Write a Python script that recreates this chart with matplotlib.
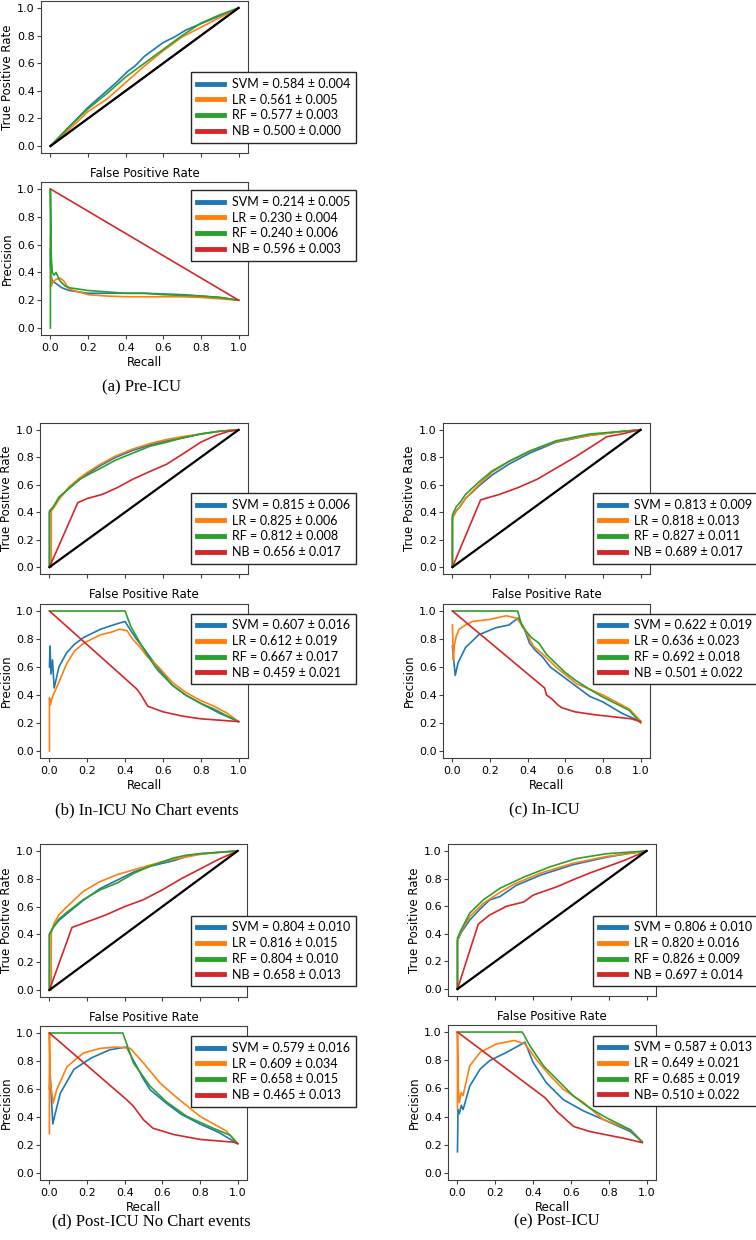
import numpy as np
import matplotlib
matplotlib.use("Agg")
import matplotlib.pyplot as plt

W, H = 756, 1240
COLORS = ['#1f77b4', '#ff7f0e', '#2ca02c', '#d62728']

# ---------------- (a) Pre-ICU ----------------
a_roc_svm_x = [0, 0.05, 0.1, 0.2, 0.3, 0.35, 0.41, 0.45, 0.5, 0.55, 0.6, 0.66, 0.72, 0.79, 0.86, 0.93, 1]
a_roc_svm_y = [0, 0.07, 0.14, 0.28, 0.4, 0.46, 0.54, 0.58, 0.65, 0.7, 0.75, 0.79, 0.84, 0.88, 0.92, 0.96, 1]
a_roc_lr_x = [0, 0.1, 0.2, 0.3, 0.4, 0.5, 0.6, 0.7, 0.8, 0.9, 1]
a_roc_lr_y = [0, 0.12, 0.25, 0.34, 0.46, 0.58, 0.69, 0.79, 0.86, 0.93, 1]
a_roc_rf_x = [0, 0.1, 0.2, 0.3, 0.4, 0.5, 0.6, 0.7, 0.8, 0.9, 1]
a_roc_rf_y = [0, 0.14, 0.27, 0.38, 0.5, 0.6, 0.7, 0.8, 0.89, 0.95, 1]
a_roc_nb_x = [0, 1]
a_roc_nb_y = [0, 1]
a_roc_labels = ['SVM = 0.584 ± 0.004', 'LR = 0.561 ± 0.005', 'RF = 0.577 ± 0.003', 'NB = 0.500 ± 0.000']

a_pr_svm_x = [0, 0, 0.005, 0.01, 0.02, 0.04, 0.06, 0.1, 0.15, 0.2, 0.3, 0.4, 0.5, 0.6, 0.7, 0.8, 0.9, 1]
a_pr_svm_y = [0.57, 0.45, 0.38, 0.33, 0.33, 0.31, 0.29, 0.27, 0.26, 0.25, 0.25, 0.25, 0.25, 0.245, 0.24, 0.23, 0.22, 0.2]
a_pr_lr_x = [0, 0.005, 0.01, 0.03, 0.05, 0.07, 0.1, 0.15, 0.2, 0.3, 0.4, 0.5, 0.6, 0.7, 0.8, 0.9, 1]
a_pr_lr_y = [0.65, 0.3, 0.33, 0.35, 0.36, 0.34, 0.28, 0.26, 0.24, 0.23, 0.225, 0.225, 0.225, 0.225, 0.22, 0.21, 0.2]
a_pr_rf_x = [0, 0, 0.005, 0.01, 0.02, 0.03, 0.05, 0.08, 0.1, 0.2, 0.3, 0.4, 0.5, 0.6, 0.7, 0.8, 0.9, 1]
a_pr_rf_y = [0, 1.0, 0.5, 0.4, 0.38, 0.4, 0.34, 0.3, 0.29, 0.27, 0.26, 0.25, 0.25, 0.24, 0.235, 0.23, 0.22, 0.2]
a_pr_nb_x = [0, 1]
a_pr_nb_y = [1, 0.2]
a_pr_labels = ['SVM = 0.214 ± 0.005', 'LR = 0.230 ± 0.004', 'RF = 0.240 ± 0.006', 'NB = 0.596 ± 0.003']

# ---------------- (b) In-ICU No Chart events ----------------
b_roc_svm_x = [0, 0, 0.02, 0.05, 0.1, 0.16, 0.2, 0.27, 0.35, 0.44, 0.53, 0.62, 0.7, 0.8, 0.9, 1]
b_roc_svm_y = [0, 0.4, 0.43, 0.5, 0.57, 0.64, 0.68, 0.74, 0.8, 0.85, 0.89, 0.92, 0.94, 0.97, 0.99, 1]
b_roc_lr_x = [0, 0.01, 0.01, 0.03, 0.06, 0.1, 0.16, 0.2, 0.27, 0.35, 0.44, 0.53, 0.62, 0.7, 0.8, 0.9, 1]
b_roc_lr_y = [0, 0, 0.41, 0.45, 0.51, 0.58, 0.65, 0.69, 0.75, 0.81, 0.86, 0.9, 0.93, 0.95, 0.97, 0.99, 1]
b_roc_rf_x = [0, 0, 0.02, 0.05, 0.1, 0.16, 0.2, 0.27, 0.35, 0.44, 0.53, 0.62, 0.7, 0.8, 0.9, 1]
b_roc_rf_y = [0, 0.41, 0.44, 0.51, 0.57, 0.64, 0.67, 0.72, 0.78, 0.83, 0.88, 0.91, 0.94, 0.97, 0.99, 1]
b_roc_nb_x = [0, 0.15, 0.2, 0.28, 0.36, 0.44, 0.52, 0.62, 0.7, 0.8, 0.88, 0.95, 1]
b_roc_nb_y = [0, 0.47, 0.5, 0.53, 0.58, 0.64, 0.69, 0.75, 0.82, 0.91, 0.96, 0.99, 1]
b_roc_labels = ['SVM = 0.815 ± 0.006', 'LR = 0.825 ± 0.006', 'RF = 0.812 ± 0.008', 'NB = 0.656 ± 0.017']

b_pr_svm_x = [0, 0.003, 0.008, 0.016, 0.025, 0.05, 0.09, 0.13, 0.18, 0.27, 0.36, 0.4, 0.43, 0.46, 0.5, 0.57, 0.65, 0.72, 0.8, 0.9, 1]
b_pr_svm_y = [0.6, 0.75, 0.55, 0.65, 0.45, 0.6, 0.7, 0.76, 0.81, 0.87, 0.91, 0.925, 0.86, 0.8, 0.73, 0.6, 0.47, 0.4, 0.34, 0.27, 0.21]
b_pr_lr_x = [0, 0, 0.005, 0.01, 0.02, 0.04, 0.09, 0.13, 0.18, 0.27, 0.33, 0.37, 0.41, 0.44, 0.48, 0.52, 0.57, 0.65, 0.72, 0.8, 0.87, 0.94, 1]
b_pr_lr_y = [0, 0.38, 0.33, 0.36, 0.4, 0.46, 0.62, 0.71, 0.77, 0.83, 0.85, 0.87, 0.86, 0.8, 0.74, 0.67, 0.61, 0.49, 0.42, 0.36, 0.32, 0.27, 0.21]
b_pr_rf_x = [0, 0.4, 0.43, 0.48, 0.52, 0.57, 0.65, 0.72, 0.8, 0.87, 0.94, 1]
b_pr_rf_y = [1, 1, 0.89, 0.77, 0.68, 0.58, 0.47, 0.4, 0.34, 0.3, 0.25, 0.21]
b_pr_nb_x = [0, 0.46, 0.48, 0.52, 0.6, 0.7, 0.8, 0.9, 1]
b_pr_nb_y = [1, 0.445, 0.41, 0.32, 0.28, 0.25, 0.23, 0.22, 0.21]
b_pr_labels = ['SVM = 0.607 ± 0.016', 'LR = 0.612 ± 0.019', 'RF = 0.667 ± 0.017', 'NB = 0.459 ± 0.021']

# ---------------- (c) In-ICU ----------------
c_roc_x = [0, 0, 0.02, 0.04, 0.07, 0.14, 0.21, 0.3, 0.41, 0.55, 0.73, 0.91, 1]
c_roc_svm_y = [0, 0.36, 0.41, 0.44, 0.5, 0.59, 0.67, 0.75, 0.83, 0.91, 0.96, 0.99, 1]
c_roc_lr_y = [0, 0.35, 0.41, 0.44, 0.5, 0.6, 0.69, 0.77, 0.845, 0.915, 0.96, 0.99, 1]
c_roc_rf_y = [0, 0.38, 0.44, 0.47, 0.53, 0.62, 0.7, 0.77, 0.845, 0.92, 0.97, 0.99, 1]
c_roc_nb_x = [0, 0.15, 0.25, 0.35, 0.45, 0.55, 0.65, 0.73, 0.82, 0.9, 0.96, 1]
c_roc_nb_y = [0, 0.49, 0.53, 0.58, 0.64, 0.72, 0.8, 0.87, 0.95, 0.97, 0.99, 1]
c_roc_labels = ['SVM = 0.813 ± 0.009', 'LR = 0.818 ± 0.013', 'RF = 0.827 ± 0.011', 'NB = 0.689 ± 0.017']

c_pr_svm_x = [0, 0.005, 0.015, 0.03, 0.07, 0.14, 0.23, 0.3, 0.35, 0.38, 0.41, 0.44, 0.48, 0.52, 0.59, 0.66, 0.73, 0.8, 0.9, 1]
c_pr_svm_y = [0.75, 0.68, 0.54, 0.63, 0.74, 0.83, 0.88, 0.9, 0.95, 0.88, 0.77, 0.72, 0.67, 0.6, 0.53, 0.46, 0.39, 0.35, 0.27, 0.21]
c_pr_lr_x = [0, 0.005, 0.01, 0.02, 0.036, 0.07, 0.107, 0.2, 0.285, 0.34, 0.38, 0.43, 0.49, 0.55, 0.66, 0.8, 0.94, 1]
c_pr_lr_y = [0.9, 0.65, 0.75, 0.82, 0.87, 0.9, 0.925, 0.94, 0.966, 0.95, 0.88, 0.75, 0.68, 0.6, 0.48, 0.4, 0.3, 0.215]
c_pr_rf_x = [0, 0.347, 0.37, 0.42, 0.46, 0.5, 0.55, 0.6, 0.66, 0.73, 0.8, 0.94, 1]
c_pr_rf_y = [1, 1, 0.89, 0.81, 0.77, 0.69, 0.625, 0.56, 0.5, 0.44, 0.385, 0.29, 0.2]
c_pr_nb_x = [0, 0.49, 0.5, 0.53, 0.56, 0.58, 0.65, 0.75, 0.85, 0.95, 1]
c_pr_nb_y = [1, 0.45, 0.4, 0.37, 0.33, 0.31, 0.28, 0.26, 0.245, 0.23, 0.21]
c_pr_labels = ['SVM = 0.622 ± 0.019', 'LR = 0.636 ± 0.023', 'RF = 0.692 ± 0.018', 'NB = 0.501 ± 0.022']

# ---------------- (d) Post-ICU No Chart events ----------------
d_roc_svm_x = [0, 0, 0.02, 0.05, 0.094, 0.18, 0.27, 0.36, 0.45, 0.535, 0.66, 0.73, 0.8, 0.9, 1]
d_roc_svm_y = [0, 0.4, 0.45, 0.5, 0.55, 0.645, 0.73, 0.79, 0.85, 0.89, 0.93, 0.96, 0.98, 0.99, 1]
d_roc_lr_x = [0, 0.01, 0.01, 0.023, 0.05, 0.094, 0.18, 0.27, 0.36, 0.45, 0.54, 0.62, 0.7, 0.8, 0.9, 1]
d_roc_lr_y = [0, 0, 0.41, 0.475, 0.54, 0.6, 0.71, 0.78, 0.83, 0.865, 0.9, 0.93, 0.95, 0.975, 0.99, 1]
d_roc_rf_x = [0, 0, 0.02, 0.05, 0.094, 0.18, 0.27, 0.36, 0.45, 0.535, 0.66, 0.73, 0.8, 0.9, 1]
d_roc_rf_y = [0, 0.4, 0.45, 0.51, 0.56, 0.65, 0.72, 0.77, 0.84, 0.89, 0.95, 0.97, 0.98, 0.99, 1]
d_roc_nb_x = [0, 0.12, 0.2, 0.3, 0.4, 0.5, 0.6, 0.7, 0.8, 0.9, 1]
d_roc_nb_y = [0, 0.45, 0.49, 0.54, 0.6, 0.65, 0.72, 0.8, 0.87, 0.94, 1]
d_roc_labels = ['SVM = 0.804 ± 0.010', 'LR = 0.816 ± 0.015', 'RF = 0.804 ± 0.010', 'NB = 0.658 ± 0.013']

d_pr_svm_x = [0, 0.003, 0.01, 0.018, 0.03, 0.058, 0.13, 0.22, 0.32, 0.41, 0.44, 0.465, 0.5, 0.535, 0.62, 0.7, 0.8, 0.9, 1]
d_pr_svm_y = [0.6, 0.73, 0.55, 0.35, 0.42, 0.57, 0.74, 0.82, 0.88, 0.9, 0.82, 0.76, 0.67, 0.595, 0.5, 0.42, 0.35, 0.29, 0.21]
d_pr_lr_x = [0, 0, 0.005, 0.01, 0.02, 0.04, 0.094, 0.18, 0.27, 0.36, 0.43, 0.5, 0.59, 0.68, 0.8, 0.94, 1]
d_pr_lr_y = [0.28, 1, 0.65, 0.6, 0.5, 0.6, 0.76, 0.857, 0.89, 0.9, 0.89, 0.785, 0.64, 0.535, 0.405, 0.3, 0.21]
d_pr_rf_x = [0, 0.39, 0.447, 0.535, 0.62, 0.73, 0.87, 0.96, 1]
d_pr_rf_y = [1, 1, 0.785, 0.62, 0.51, 0.405, 0.32, 0.27, 0.21]
d_pr_nb_x = [0, 0.41, 0.447, 0.5, 0.55, 0.66, 0.8, 0.98, 1]
d_pr_nb_y = [1, 0.524, 0.476, 0.38, 0.32, 0.275, 0.24, 0.22, 0.21]
d_pr_labels = ['SVM = 0.579 ± 0.016', 'LR = 0.609 ± 0.034', 'RF = 0.658 ± 0.015', 'NB = 0.465 ± 0.013']

# ---------------- (e) Post-ICU ----------------
e_roc_svm_x = [0, 0, 0.02, 0.065, 0.12, 0.17, 0.225, 0.31, 0.44, 0.61, 0.79, 0.9, 1]
e_roc_svm_y = [0, 0.35, 0.41, 0.5, 0.58, 0.645, 0.67, 0.75, 0.825, 0.9, 0.955, 0.98, 1]
e_roc_lr_x = [0, 0, 0.02, 0.065, 0.136, 0.225, 0.3, 0.44, 0.61, 0.79, 0.9, 1]
e_roc_lr_y = [0, 0.35, 0.42, 0.525, 0.62, 0.7, 0.76, 0.84, 0.91, 0.96, 0.98, 1]
e_roc_rf_x = [0, 0, 0.02, 0.065, 0.136, 0.225, 0.35, 0.49, 0.63, 0.79, 0.9, 1]
e_roc_rf_y = [0, 0.37, 0.43, 0.55, 0.645, 0.73, 0.81, 0.885, 0.945, 0.98, 0.99, 1]
e_roc_nb_x = [0, 0.11, 0.17, 0.26, 0.35, 0.4, 0.525, 0.61, 0.7, 0.79, 0.88, 1]
e_roc_nb_y = [0, 0.47, 0.536, 0.6, 0.63, 0.68, 0.74, 0.79, 0.84, 0.885, 0.93, 1]
e_roc_labels = ['SVM = 0.806 ± 0.010', 'LR = 0.820 ± 0.016', 'RF = 0.826 ± 0.009', 'NB = 0.697 ± 0.014']

e_pr_svm_x = [0, 0.003, 0.01, 0.02, 0.03, 0.065, 0.12, 0.17, 0.26, 0.357, 0.4, 0.47, 0.56, 0.667, 0.77, 0.915, 0.977]
e_pr_svm_y = [0.15, 0.45, 0.42, 0.48, 0.45, 0.617, 0.737, 0.797, 0.856, 0.928, 0.785, 0.64, 0.52, 0.44, 0.38, 0.294, 0.22]
e_pr_lr_x = [0, 0, 0.005, 0.01, 0.02, 0.03, 0.065, 0.12, 0.207, 0.3, 0.357, 0.42, 0.49, 0.56, 0.667, 0.77, 0.915, 0.977]
e_pr_lr_y = [0.45, 1, 0.6, 0.5, 0.57, 0.55, 0.76, 0.856, 0.916, 0.94, 0.916, 0.8, 0.69, 0.593, 0.5, 0.38, 0.306, 0.22]
e_pr_rf_x = [0, 0.343, 0.384, 0.455, 0.525, 0.614, 0.7, 0.79, 0.915, 0.977]
e_pr_rf_y = [1, 1, 0.9, 0.76, 0.665, 0.545, 0.46, 0.39, 0.306, 0.22]
e_pr_nb_x = [0, 0.464, 0.525, 0.614, 0.7, 0.88, 0.977]
e_pr_nb_y = [1, 0.533, 0.438, 0.33, 0.294, 0.246, 0.215]
e_pr_labels = ['SVM = 0.587 ± 0.013', 'LR = 0.649 ± 0.021', 'RF = 0.685 ± 0.019', 'NB= 0.510 ± 0.022']

captions = ['(a) Pre-ICU', '(b) In-ICU No Chart events', '(c) In-ICU',
            '(d) Post-ICU No Chart events', '(e) Post-ICU']

fig = plt.figure(figsize=(W / 100, H / 100), dpi=100)


def add_axes(left, top, right, bottom):
    # pixel box -> figure fraction
    return fig.add_axes([left / W, 1 - bottom / H, (right - left) / W, (bottom - top) / H])


def style_axes(ax):
    ax.set_xlim(-0.05, 1.05)
    ax.set_ylim(-0.05, 1.05)
    ax.set_xticks(np.arange(0, 1.01, 0.2))
    ax.set_yticks(np.arange(0, 1.01, 0.2))
    ax.tick_params(labelsize=8, length=3, color='0.25')
    ax.tick_params(axis='y', pad=1.5)
    ax.tick_params(axis='x', pad=3)
    for s in ax.spines.values():
        s.set_color('0.25')
        s.set_linewidth(0.8)


def add_legend(ax, labels, lx, ly):
    leg = ax.legend(labels, loc='center left', bbox_to_anchor=(lx / W, 1 - ly / H),
                    bbox_transform=fig.transFigure, prop={'family': 'Lato', 'size': 9},
                    frameon=True, fancybox=False, framealpha=1, edgecolor='0.15',
                    borderpad=0.45, labelspacing=0.3, handlelength=2.2, handletextpad=0.65,
                    borderaxespad=0)
    leg.get_frame().set_linewidth(1.0)
    for ln in leg.get_lines():
        ln.set_linewidth(3.5)


def draw_roc(box, curves, labels, leg_xy):
    ax = add_axes(*box)
    for (x, y), c in zip(curves, COLORS):
        ax.plot(x, y, color=c, lw=1.2)
    ax.plot([0, 1], [0, 1], color='black', lw=1.6)
    style_axes(ax)
    ax.set_xticklabels([])
    ax.set_xlabel('False Positive Rate', fontsize=8.5)
    ax.set_ylabel('True Positive Rate', fontsize=8.5, labelpad=2)
    add_legend(ax, labels, *leg_xy)


def draw_pr(box, curves, labels, leg_xy):
    ax = add_axes(*box)
    for (x, y), c in zip(curves, COLORS):
        ax.plot(x, y, color=c, lw=1.2)
    style_axes(ax)
    ax.set_xlabel('Recall', fontsize=8.5, labelpad=2)
    ax.set_ylabel('Precision', fontsize=8.5, labelpad=2)
    add_legend(ax, labels, *leg_xy)


# (a)
draw_roc((41, 1, 248, 153),
         [(a_roc_svm_x, a_roc_svm_y), (a_roc_lr_x, a_roc_lr_y), (a_roc_rf_x, a_roc_rf_y), (a_roc_nb_x, a_roc_nb_y)],
         a_roc_labels, (191, 107.5))
draw_pr((41, 182, 248, 335),
        [(a_pr_svm_x, a_pr_svm_y), (a_pr_lr_x, a_pr_lr_y), (a_pr_rf_x, a_pr_rf_y), (a_pr_nb_x, a_pr_nb_y)],
        a_pr_labels, (191, 225.5))
# (b)
draw_roc((40, 423, 248, 574),
         [(b_roc_svm_x, b_roc_svm_y), (b_roc_lr_x, b_roc_lr_y), (b_roc_rf_x, b_roc_rf_y), (b_roc_nb_x, b_roc_nb_y)],
         b_roc_labels, (191, 528.5))
draw_pr((40, 604, 248, 758),
        [(b_pr_svm_x, b_pr_svm_y), (b_pr_lr_x, b_pr_lr_y), (b_pr_rf_x, b_pr_rf_y), (b_pr_nb_x, b_pr_nb_y)],
        b_pr_labels, (191, 649))
# (c)
draw_roc((443, 423, 650, 574),
         [(c_roc_x, c_roc_svm_y), (c_roc_x, c_roc_lr_y), (c_roc_x, c_roc_rf_y), (c_roc_nb_x, c_roc_nb_y)],
         c_roc_labels, (593, 528.5))
draw_pr((443, 604, 650, 758),
        [(c_pr_svm_x, c_pr_svm_y), (c_pr_lr_x, c_pr_lr_y), (c_pr_rf_x, c_pr_rf_y), (c_pr_nb_x, c_pr_nb_y)],
        c_pr_labels, (593, 649))
# (d)
draw_roc((40, 844, 247, 997),
         [(d_roc_svm_x, d_roc_svm_y), (d_roc_lr_x, d_roc_lr_y), (d_roc_rf_x, d_roc_rf_y), (d_roc_nb_x, d_roc_nb_y)],
         d_roc_labels, (191, 951))
draw_pr((40, 1026, 247, 1180),
        [(d_pr_svm_x, d_pr_svm_y), (d_pr_lr_x, d_pr_lr_y), (d_pr_rf_x, d_pr_rf_y), (d_pr_nb_x, d_pr_nb_y)],
        d_pr_labels, (191, 1071.5))
# (e)
draw_roc((448, 844, 656, 996),
         [(e_roc_svm_x, e_roc_svm_y), (e_roc_lr_x, e_roc_lr_y), (e_roc_rf_x, e_roc_rf_y), (e_roc_nb_x, e_roc_nb_y)],
         e_roc_labels, (593, 951))
draw_pr((448, 1025, 656, 1180),
        [(e_pr_svm_x, e_pr_svm_y), (e_pr_lr_x, e_pr_lr_y), (e_pr_rf_x, e_pr_rf_y), (e_pr_nb_x, e_pr_nb_y)],
        e_pr_labels, (593, 1071))

# subfigure captions
cap_pos = [(141, 387), (147, 810), (544, 810), (151, 1221), (557, 1221)]
for text, (cx, cy) in zip(captions, cap_pos):
    fig.text(cx / W, 1 - cy / H, text, ha='center', va='center',
             family='Liberation Serif', fontsize=12)

fig.savefig('out.png', dpi=100)
